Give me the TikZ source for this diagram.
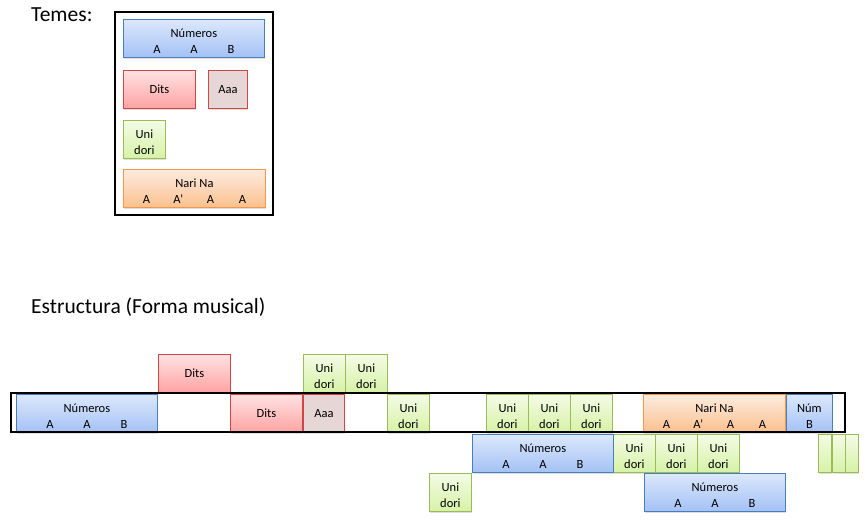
\documentclass[tikz,border=0pt]{standalone}
\usepackage{fontspec}
\setmainfont{Carlito}
\usetikzlibrary{shadows}
\definecolor{numtop}{HTML}{DCE8FC}
\definecolor{numbot}{HTML}{A4C2F5}
\definecolor{numline}{HTML}{4A7EBB}
\definecolor{ditstop}{HTML}{FFE2E2}
\definecolor{ditsbot}{HTML}{FFA3A3}
\definecolor{ditsline}{HTML}{D04545}
\definecolor{aaafill}{HTML}{E6D6D6}
\definecolor{unitop}{HTML}{F4FBE6}
\definecolor{unibot}{HTML}{D6F2A6}
\definecolor{uniline}{HTML}{9BBB59}
\definecolor{naritop}{HTML}{FDECDF}
\definecolor{naribot}{HTML}{FBC08F}
\definecolor{nariline}{HTML}{F79646}
\newcommand{\up}{\rule{0pt}{14pt}}
\newcommand{\numtext}{\up Números\\\makebox[37pt]{A}\makebox[37pt]{A}\makebox[37pt]{B}}
\newcommand{\naritext}{\up Nari Na\\\makebox[32pt]{A}\makebox[32pt]{A’}\makebox[32pt]{A}\makebox[32pt]{A}}
\newcommand{\unitext}{\up Uni\\dori}
\tikzset{
        box/.style={draw, line width=0.8pt, anchor=north west, inner sep=0pt, minimum height=38pt,
          align=center, font=\fontsize{12.5}{16}\selectfont,
          drop shadow={shadow xshift=1pt, shadow yshift=-1.5pt, opacity=0.25}},
        num/.style={box, draw=numline, top color=numtop, bottom color=numbot, minimum width=141pt},
        dits/.style={box, draw=ditsline, top color=ditstop, bottom color=ditsbot, minimum width=72pt},
        aaa/.style={box, draw=ditsline, fill=aaafill, minimum width=41pt},
        uni/.style={box, draw=uniline, top color=unitop, bottom color=unibot, minimum width=42pt},
        nari/.style={box, draw=nariline, top color=naritop, bottom color=naribot, minimum width=142pt},
        frame/.style={draw=black, line width=2.2pt},
        title/.style={anchor=base west, inner sep=0pt, font=\fontsize{21.5}{24}\selectfont}
          }
\begin{document}
\begin{tikzpicture}[x=1pt,y=-1pt]
        \useasboundingbox (0,0) rectangle (867,525);
        % themes
        \node[title] (temes) at (31,21) {Temes:};
        \draw[frame] (115,12) rectangle (273,215);
        \node[num] (tNum) at (123,19) {\numtext};
        \node[dits] (tDits) at (123,70) {Dits};
        \node[aaa, minimum width=39pt] (tAaa) at (208,70) {Aaa};
        \node[uni] (tUni) at (123,120) {\unitext};
        \node[nari] (tNari) at (123,169) {\naritext};
        % structure
        \node[title] (estr) at (31,313) {Estructura (Forma musical)};
        \node[num] (sNum1) at (16,394) {\numtext};
        \node[dits] (sDits1) at (158,354) {Dits};
        \node[dits] (sDits2) at (230,394) {Dits};
        \node[aaa] (sAaa) at (303,394) {Aaa};
        \foreach \x/\y [count=\i] in {303/354, 345/354, 387/394, 486/394, 528/394, 570/394,
            613/434, 655/434, 697/434, 429/473}
          \node[uni] (sUni\i) at (\x,\y) {\unitext};
        \node[nari] (sNari) at (643,394) {\naritext};
        \node[num, minimum width=46pt] (sNum2) at (786,394) {\up Núm\\B};
        \node[num] (sNum3) at (472,434) {\numtext};
        \node[num] (sNum4) at (644,473) {\numtext};
        \foreach \x [count=\i] in {818,832,845}
          \node[uni, minimum width=13pt] (sEnd\i) at (\x,434) {};
        \draw[frame] (11,393) rectangle (845,432);
      \end{tikzpicture}
\end{document}
